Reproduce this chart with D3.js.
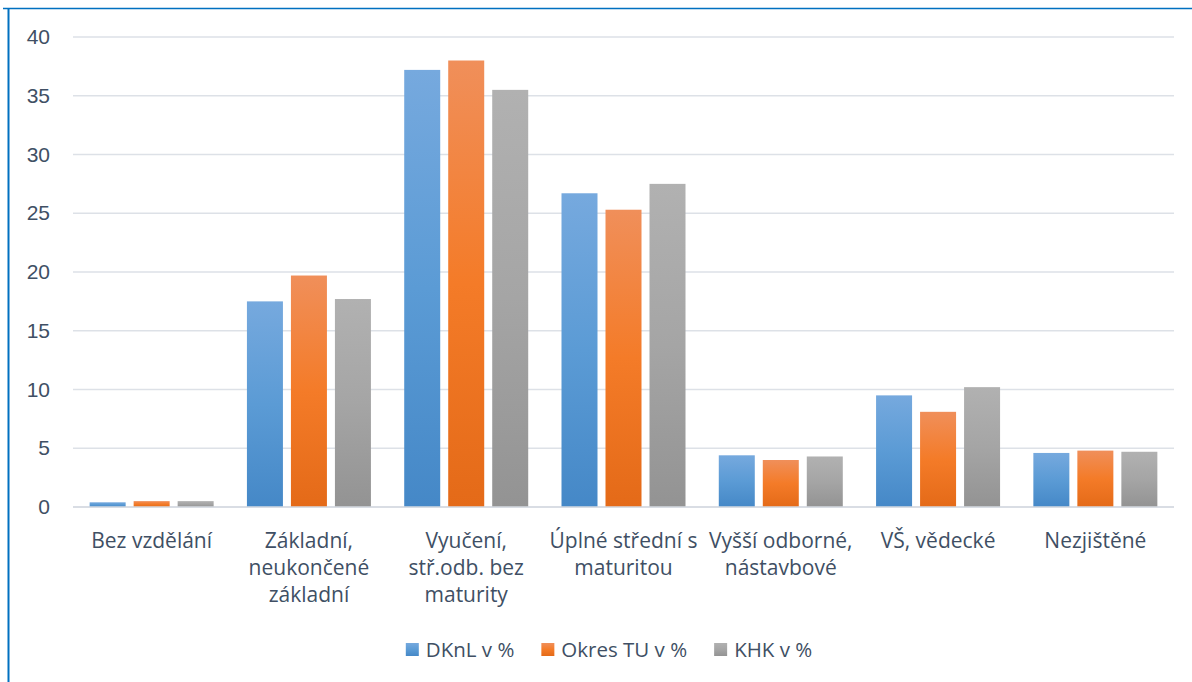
<!DOCTYPE html>
<html>
<head>
<meta charset="utf-8">
<script src="https://cdn.jsdelivr.net/npm/d3@7"></script>
<style>
  body { margin: 0; background: #fff; }
  svg { display: block; font-family: "Open Sans", "Noto Sans", sans-serif; }
</style>
</head>
<body>
<div id="chart"></div>
<script>
// data
var categories = [
  ["Bez vzdělání"],
  ["Základní,", "neukončené", "základní"],
  ["Vyučení,", "stř.odb. bez", "maturity"],
  ["Úplné střední s", "maturitou"],
  ["Vyšší odborné,", "nástavbové"],
  ["VŠ, vědecké"],
  ["Nezjištěné"]
];
var seriesNames = ["DKnL v %", "Okres TU v %", "KHK v %"];
var dknl  = [0.4, 17.5, 37.2, 26.7, 4.4, 9.5, 4.6];
var okres = [0.5, 19.7, 38.0, 25.3, 4.0, 8.1, 4.8];
var khk   = [0.5, 17.7, 35.5, 27.5, 4.3, 10.2, 4.7];
var yTicks = [0, 5, 10, 15, 20, 25, 30, 35, 40];

var values = [dknl, okres, khk];
var gradStops = [
  ["#76a9de", "#5b9bd5", "#4588c7"],
  ["#f08f5a", "#f47b28", "#e46a18"],
  ["#b1b1b1", "#a5a5a5", "#939393"]
];

var W = 1192, H = 682;
var margin = { top: 37, right: 18, bottom: 175, left: 73 };
var width = W - margin.left - margin.right,
    height = 507 - margin.top;
var fontSize = "21px", textColor = "#404f64";

var svg = d3.select("#chart").append("svg")
    .attr("width", W)
    .attr("height", H);

// gradients
var defs = svg.append("defs");
gradStops.forEach(function (c, i) {
  var g = defs.append("linearGradient")
      .attr("id", "grad" + i)
      .attr("x1", 0).attr("y1", 0).attr("x2", 0).attr("y2", 1);
  g.append("stop").attr("offset", "0%").attr("stop-color", c[0]);
  g.append("stop").attr("offset", "50%").attr("stop-color", c[1]);
  g.append("stop").attr("offset", "100%").attr("stop-color", c[2]);
});

// frame lines (chart container border)
svg.append("line").attr("x1", 3).attr("x2", W).attr("y1", 8.5).attr("y2", 8.5)
    .style("stroke", "#0070c0").style("stroke-width", 1.5);
svg.append("line").attr("x1", 8.5).attr("x2", 8.5).attr("y1", 8).attr("y2", H)
    .style("stroke", "#0070c0").style("stroke-width", 2);

var g = svg.append("g")
    .attr("transform", "translate(" + margin.left + "," + margin.top + ")");

var y = d3.scaleLinear().domain([0, 40]).range([height, 0]);
var x0 = d3.scaleBand().domain(d3.range(categories.length)).range([0, width]);
var outer = (x0.bandwidth() - 124) / 2;
var x1 = d3.scaleBand().domain(d3.range(seriesNames.length))
    .range([outer, x0.bandwidth() - outer])
    .paddingInner(0.1818);

// gridlines
g.selectAll(".grid").data(yTicks).enter().append("line")
    .attr("x1", 0).attr("x2", width)
    .attr("y1", function (d) { return y(d); })
    .attr("y2", function (d) { return y(d); })
    .style("stroke", "#dde1e7")
    .style("stroke-width", 1.5);

// y axis labels
var yAxis = d3.axisLeft(y).tickValues(yTicks).tickSize(0).tickPadding(23);
var ya = g.append("g").call(yAxis);
ya.select(".domain").remove();
ya.selectAll("text")
    .style("font-size", fontSize)
    .style("fill", textColor);

// bars
var groups = g.selectAll(".grp").data(categories).enter().append("g")
    .attr("transform", function (d, i) { return "translate(" + x0(i) + ",0)"; });

groups.selectAll("rect")
    .data(function (d, i) { return values.map(function (v, s) { return { s: s, v: v[i] }; }); })
    .enter().append("rect")
    .attr("x", function (d) { return x1(d.s); })
    .attr("width", x1.bandwidth())
    .attr("y", function (d) { return y(d.v); })
    .attr("height", function (d) { return y(0) - y(d.v); })
    .style("fill", function (d) { return "url(#grad" + d.s + ")"; });

// baseline
g.append("line").attr("x1", 0).attr("x2", width).attr("y1", y(0)).attr("y2", y(0))
    .style("stroke", "#d5dae1").style("stroke-width", 1.5);

// category labels
groups.each(function (lines) {
  var t = d3.select(this).append("text")
      .attr("text-anchor", "middle")
      .style("font-size", fontSize)
      .style("fill", textColor);
  lines.forEach(function (l, k) {
    t.append("tspan")
        .attr("x", x0.bandwidth() / 2)
        .attr("y", height + 41 + k * 27)
        .text(l);
  });
});

// legend
var legend = svg.append("g");
var lx = 0;
seriesNames.forEach(function (name, i) {
  var item = legend.append("g").attr("transform", "translate(" + lx + ",0)");
  item.append("rect").attr("x", 0).attr("y", -7).attr("width", 13).attr("height", 13)
      .style("fill", "url(#grad" + i + ")");
  var txt = item.append("text").attr("x", 20).attr("y", 7)
      .style("font-size", "20.5px").style("fill", textColor).text(name);
  lx += 20 + txt.node().getComputedTextLength() + 27;
});
lx -= 27;
legend.attr("transform", "translate(" + (W / 2 + 13 - lx / 2) + ",650)");
</script>
</body>
</html>
